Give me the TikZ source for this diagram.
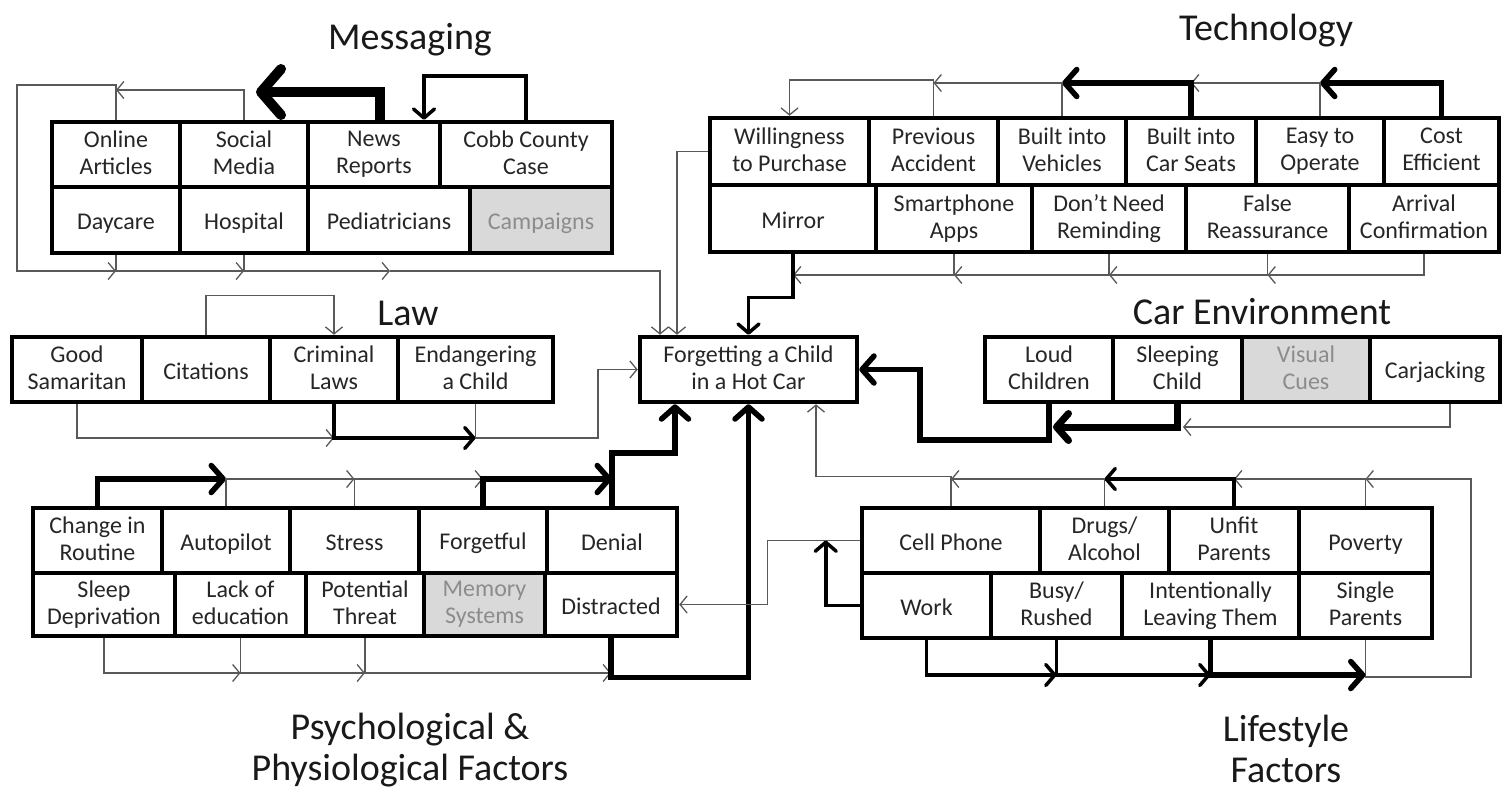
\documentclass[tikz,border=0pt]{standalone}
\usepackage{fontspec}
\setmainfont{Carlito}
\usetikzlibrary{arrows.meta, calc}
\tikzset{
  cell/.style={draw, line width=4.5pt, inner sep=1pt, align=center, minimum height=65pt,
    text=black!85, font=\fontsize{24}{27}\selectfont,
    execute at begin node={\rule{0pt}{23pt}}, execute at end node={\rule[-4pt]{0pt}{4pt}}},
  dimcell/.style={cell, fill=black!15, text=black!45},
  heading/.style={align=center, text=black!90, font=\fontsize{38}{41}\selectfont},
  arr/.style={-{Straight Barb[length=7pt, width=17pt]}, line width=1.3pt, draw=black!65},
  arrm/.style={-{Straight Barb[round, length=9pt, width=21pt]}, line width=3.5pt},
  arrb/.style={-{Straight Barb[round, length=12pt, width=27pt]}, line width=5.5pt},
  arrh/.style={-{Straight Barb[round, length=20pt, width=46pt]}, line width=10pt},
}

\begin{document}
\begin{tikzpicture}[x=1pt, y=-1pt]
    \fill[white] (0,0) rectangle (1505,793);
    \useasboundingbox (0,0) rectangle (1505,793);

    % headings
    \node[heading] (hmsg) at (410,40) {Messaging};
    \node[heading] (htech) at (1266,31) {Technology};
    \node[heading] (hlaw) at (408,313) {Law};
    \node[heading] (hcar) at (1262,312) {Car Environment};
    \node[heading] (hpsy) at (410,750) {Psychological \&\\Physiological Factors};
    \node[heading] (hlife) at (1286,749) {Lifestyle\\Factors};

    % messaging
    \node[cell, minimum width=128pt] (onl) at (116,154.5) {Online\\Articles};
    \node[cell, minimum width=128pt] (soc) at (244,154.5) {Social\\Media};
    \node[cell, minimum width=132pt] (news) at (374,154.5) {News\\Reports};
    \node[cell, minimum width=172pt] (cobb) at (526,154.5) {Cobb County\\Case};
    \node[cell, minimum width=128pt, minimum height=66pt] (dayc) at (116,220) {Daycare};
    \node[cell, minimum width=128pt, minimum height=66pt] (hosp) at (244,220) {Hospital};
    \node[cell, minimum width=162pt, minimum height=66pt] (ped) at (389,220) {Pediatricians};
    \node[dimcell, minimum width=142pt, minimum height=66pt] (camp) at (541,220) {Campaigns};

    % technology
    \node[cell, minimum width=159pt, minimum height=67pt] (will) at (789.5,151.5) {Willingness\\to Purchase};
    \node[cell, minimum width=129pt, minimum height=67pt] (prev) at (933.5,151.5) {Previous\\Accident};
    \node[cell, minimum width=128pt, minimum height=67pt] (bveh) at (1062,151.5) {Built into\\Vehicles};
    \node[cell, minimum width=130pt, minimum height=67pt] (bseat) at (1191,151.5) {Built into\\Car Seats};
    \node[cell, minimum width=128pt, minimum height=67pt] (easy) at (1320,151.5) {Easy to\\Operate};
    \node[cell, minimum width=115pt, minimum height=67pt] (cost) at (1441.5,151.5) {Cost\\Efficient};
    \node[cell, minimum width=166pt, minimum height=67pt] (mirr) at (793,218.5) {Mirror};
    \node[cell, minimum width=156pt, minimum height=67pt] (apps) at (954,218.5) {Smartphone\\Apps};
    \node[cell, minimum width=154pt, minimum height=67pt] (nodrem) at (1109,218.5) {Don’t Need\\Reminding};
    \node[cell, minimum width=163pt, minimum height=67pt] (falser) at (1267.5,218.5) {False\\Reassurance};
    \node[cell, minimum width=150pt, minimum height=67pt] (arrv) at (1424,218.5) {Arrival\\Confirmation};

    % law
    \node[cell, minimum width=130pt] (goods) at (77,369.5) {Good\\Samaritan};
    \node[cell, minimum width=128pt] (cit) at (206,369.5) {Citations};
    \node[cell, minimum width=128pt] (crim) at (334,369.5) {Criminal\\Laws};
    \node[cell, minimum width=155pt] (endang) at (475.5,369.5) {Endangering\\a Child};

    % centre
    \node[cell, minimum width=217pt] (hotcar) at (748.5,369.5) {Forgetting a Child\\in a Hot Car};

    % car environment
    \node[cell, minimum width=128pt] (loud) at (1049,369.5) {Loud\\Children};
    \node[cell, minimum width=129pt] (sleep) at (1177.5,369.5) {Sleeping\\Child};
    \node[dimcell, minimum width=128pt] (vis) at (1306,369.5) {Visual\\Cues};
    \node[cell, minimum width=130pt] (carj) at (1435,369.5) {Carjacking};

    % psychological & physiological
    \node[cell, minimum width=129pt] (chg) at (97.5,540.5) {Change in\\Routine};
    \node[cell, minimum width=128pt] (auto) at (226,540.5) {Autopilot};
    \node[cell, minimum width=129pt] (stress) at (354.5,540.5) {Stress};
    \node[cell, minimum width=128pt] (forg) at (483,540.5) {Forgetful};
    \node[cell, minimum width=130pt] (deny) at (612,540.5) {Denial};
    \node[cell, minimum width=142pt, minimum height=63pt] (sleepd) at (104,604.5) {Sleep\\Deprivation};
    \node[cell, minimum width=131pt, minimum height=63pt] (lack) at (240.5,604.5) {Lack of\\education};
    \node[cell, minimum width=118pt, minimum height=63pt] (threat) at (365,604.5) {Potential\\Threat};
    \node[dimcell, minimum width=121pt, minimum height=63pt] (mem) at (484.5,604.5) {Memory\\Systems};
    \node[cell, minimum width=132pt, minimum height=63pt] (distr) at (611,604.5) {Distracted};

    % lifestyle
    \node[cell, minimum width=178pt] (cell) at (951,540.5) {Cell Phone};
    \node[cell, minimum width=129pt] (drug) at (1104.5,540.5) {Drugs/\\Alcohol};
    \node[cell, minimum width=130pt] (unfit) at (1234,540.5) {Unfit\\Parents};
    \node[cell, minimum width=133pt] (pov) at (1365.5,540.5) {Poverty};
    \node[cell, minimum width=129pt] (work) at (926.5,605.5) {Work};
    \node[cell, minimum width=131pt] (busy) at (1056.5,605.5) {Busy/\\Rushed};
    \node[cell, minimum width=177pt] (intent) at (1210.5,605.5) {Intentionally\\Leaving Them};
    \node[cell, minimum width=133pt] (single) at (1365.5,605.5) {Single\\Parents};

    % junction levels
    \coordinate (mlvl) at (0,90);
    \coordinate (mloop) at (17,85);
    \coordinate (mnews) at (256,92);
    \coordinate (mlow) at (0,271);
    \coordinate (mjoin) at (390,271);
    \coordinate (tlvl) at (0,83);
    \coordinate (tlvl2) at (0,80);
    \coordinate (tlow) at (0,275);
    \coordinate (lawlvl) at (0,438);
    \coordinate (lawjoin) at (598,438);
    \coordinate (carjoin) at (920,440);
    \coordinate (sleepin) at (1053,427);
    \coordinate (carjin) at (1183,427);
    \coordinate (plvl) at (0,479);
    \coordinate (plow) at (0,673);
    \coordinate (flvl) at (0,479);
    \coordinate (flow) at (0,675);
    \coordinate (fcorner) at (1471,677);

    % messaging links
    \draw[arr] (soc.north) |- (onl.north |- mlvl);
    \draw[arr] (onl.north) |- (mloop) |- (dayc.south |- mlow);
    \draw[arr] (dayc.south) |- (hosp.south |- mlow);
    \draw[arr] (hosp.south) |- (mjoin);
    \draw[arr] (mjoin) -| ([xshift=-88.5pt]hotcar.north);
    \draw[arrh] ([xshift=6pt]news.north) |- (mnews);
    \draw[arrm] (cobb.north) -- ++(0,-44) -| ([xshift=50pt]news.north);

    % technology links
    \draw[arrb] (cost.north) |- (easy.north |- tlvl);
    \draw[arr] (easy.north) |- (bseat.north |- tlvl);
    \draw[arrb] (bseat.north) |- (bveh.north |- tlvl);
    \draw[arr] (bveh.north) |- (prev.north |- tlvl);
    \draw[arr] (prev.north) |- (will.north |- tlvl2) -- (will.north);
    \draw[arr] (arrv.south) |- (falser.south |- tlow);
    \draw[arr] (falser.south) |- (nodrem.south |- tlow);
    \draw[arr] (nodrem.south) |- (apps.south |- tlow);
    \draw[arr] (apps.south) |- (mirr.south |- tlow);
    \draw[arrm] (mirr.south) -- ++(0,43) -| (hotcar.north);
    \draw[arr] (will.west) -| ([xshift=-71.5pt]hotcar.north);

    % law links
    \draw[arr] (cit.north) -- ++(0,-39) -| (crim.north);
    \draw[arr] (goods.south) |- (crim.south |- lawlvl);
    \draw[arrm] (crim.south) |- (endang.south |- lawlvl);
    \draw[arr] (endang.south) |- (lawjoin) |- (hotcar.west);

    % car environment links
    \draw[arrb] (loud.south) |- (carjoin) |- (hotcar.east);
    \draw[arrb, line width=7pt] (sleep.south) |- (sleepin);
    \draw[arr] ([xshift=15pt]carj.south) |- (carjin);

    % psychological links
    \draw[arrb] (chg.north) |- (auto.north |- plvl);
    \draw[arr] (auto.north) |- (stress.north |- plvl);
    \draw[arr] (stress.north) |- (forg.north |- plvl);
    \draw[arrb] (forg.north) |- (deny.north |- plvl);
    \draw[arrb] (deny.north) -- ++(0,-53) -| ([xshift=-73.5pt]hotcar.south);
    \draw[arr] (sleepd.south) |- (lack.south |- plow);
    \draw[arr] (lack.south) |- (threat.south |- plow);
    \draw[arr] (threat.south) |- (distr.south |- plow);
    \draw[arrb] (distr.south) -- ++(0,39) -| (hotcar.south);

    % lifestyle links
    \draw[arr] (single.south) |- (fcorner) |- (pov.north |- flvl);
    \draw[arr] (pov.north) |- (unfit.north |- flvl);
    \draw[arrm] (unfit.north) |- (drug.north |- flvl);
    \draw[arr] (drug.north) |- (cell.north |- flvl);
    \draw[arr] (cell.north) -- ++(0,-29) -| ([xshift=67.5pt]hotcar.south);
    \draw[arrm] (work.south) |- (busy.south |- flow);
    \draw[arrm] (busy.south) |- (intent.south |- flow);
    \draw[arrb] (intent.south) |- (single.south |- flow);
    \draw[arr] (cell.west) -- ++(-92,0) |- (distr.east);
    \draw[arrm] (work.west) -| ([xshift=-34pt]cell.west);
\end{tikzpicture}
\end{document}
